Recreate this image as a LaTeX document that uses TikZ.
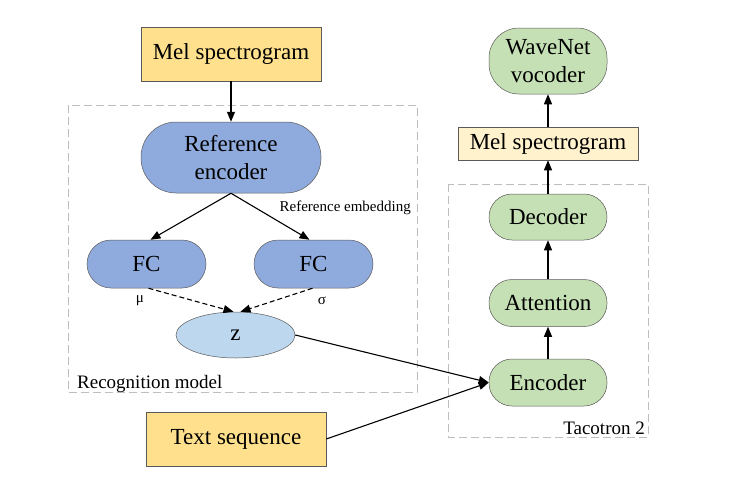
\documentclass[tikz,border=0pt]{standalone}
\usepackage{fontspec}
\setmainfont{Liberation Serif}
\usetikzlibrary{arrows.meta,shapes.geometric}
\definecolor{melY}{RGB}{255,224,140}
\definecolor{melL}{RGB}{255,242,204}
\definecolor{blueN}{RGB}{143,170,220}
\definecolor{blueL}{RGB}{189,215,238}
\definecolor{greenN}{RGB}{197,224,180}
\definecolor{edgeC}{RGB}{90,90,90}
\definecolor{dashC}{RGB}{190,190,190}
\tikzset{
  base/.style={draw=edgeC,line width=0.5pt,inner sep=0pt,align=center,font=\fontsize{23}{28}\selectfont},
  rectbox/.style={base,rectangle},
  pill/.style={base,rectangle},
  grp/.style={draw=dashC,line width=1pt,dash pattern=on 8pt off 4pt},
  arr/.style={line width=1.1pt,-{Triangle[length=10pt,width=8pt]}},
  darr/.style={arr,dash pattern=on 5pt off 3pt},
  small/.style={font=\fontsize{15}{18}\selectfont,inner sep=0pt},
  mid/.style={font=\fontsize{19}{22}\selectfont,inner sep=0pt}
}
\begin{document}
\begin{tikzpicture}[x=1pt,y=-1pt]
\useasboundingbox (0,0) rectangle (729,485);
% groups
\draw[grp] (68,105) rectangle (417,392);
\draw[grp] (448,184) rectangle (648,437);
% nodes
\node[rectbox,fill=melY,minimum width=180pt,minimum height=54pt] (melA) at (231,54) {Mel spectrogram};
\node[pill,fill=blueN,minimum width=180pt,minimum height=71pt,rounded corners=35pt] (refenc) at (231,157.5) {Reference\\encoder};
\node[pill,fill=blueN,minimum width=119pt,minimum height=48pt,rounded corners=24pt] (fcL) at (146.5,264) {FC};
\node[pill,fill=blueN,minimum width=119pt,minimum height=48pt,rounded corners=24pt] (fcR) at (313.5,264) {FC};
\node[base,ellipse,fill=blueL,minimum width=119pt,minimum height=46pt] (z) at (235.5,335) {z};
\node[rectbox,fill=melY,minimum width=180pt,minimum height=54pt] (text) at (236,439) {Text sequence};
\node[pill,fill=greenN,minimum width=118pt,minimum height=66pt,rounded corners=30pt] (wave) at (548,61) {WaveNet\\vocoder};
\node[rectbox,fill=melL,minimum width=180pt,minimum height=33pt] (melB) at (548,143.5) {Mel spectrogram};
\node[pill,fill=greenN,minimum width=118pt,minimum height=46pt,rounded corners=23pt] (dec) at (548,217) {Decoder};
\node[pill,fill=greenN,minimum width=118pt,minimum height=47pt,rounded corners=23pt] (att) at (548,303) {Attention};
\node[pill,fill=greenN,minimum width=118pt,minimum height=47pt,rounded corners=23pt] (enc) at (548,382.5) {Encoder};
% labels
\node[small,anchor=east] (reflab) at (411,208) {Reference embedding};
\node[small] (mu) at (140,301) {μ};
\node[small] (sig) at (322,301) {σ};
\node[mid,anchor=base west] (recog) at (77,388) {Recognition model};
\node[mid,anchor=base east] (taco) at (645,434) {Tacotron 2};
% connectors
\draw[arr] (melA.south) -- (refenc.north);
\draw[arr] (refenc.south) -- ([xshift=4pt]fcL.north);
\draw[arr] (refenc.south) -- ([xshift=-4pt]fcR.north);
\draw[darr] ([xshift=2pt]fcL.south) -- ([xshift=-2pt]z.north);
\draw[darr] ([xshift=-1pt]fcR.south) -- ([xshift=5pt]z.north);
\draw[arr] (z.east) -- (enc.west);
\draw[arr] (text.east) -- (enc.west);
\draw[arr] (enc.north) -- (att.south);
\draw[arr] (att.north) -- (dec.south);
\draw[arr] (dec.north) -- (melB.south);
\draw[arr] (melB.north) -- (wave.south);
\end{tikzpicture}
\end{document}
